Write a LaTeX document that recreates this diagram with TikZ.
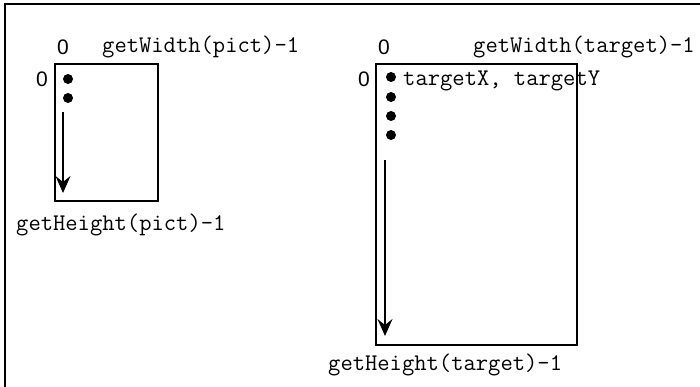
\documentclass[tikz,border=0pt]{standalone}
\usepackage{fontspec}
\newfontfamily\sansfont{Liberation Sans}
\usetikzlibrary{arrows.meta}
\begin{document}
\begin{tikzpicture}[x=1pt,y=-1pt,
  lbl/.style={anchor=base west,inner sep=0pt,font=\ttfamily\fontsize{23.9}{26}\selectfont},
  zero/.style={anchor=base west,inner sep=0pt,font=\sansfont\fontsize{21}{24}\selectfont},
  imgbox/.style={draw,line width=1.6pt,inner sep=0pt,anchor=north west},
  pix/.style={circle,fill,inner sep=0pt,minimum size=10pt},
  scan/.style={line width=1.8pt,-{Stealth[length=17pt,width=15pt,inset=6pt]}}]
\useasboundingbox (0,0) rectangle (700,387);
% frame
\coordinate (fbl) at (5,387);
\coordinate (ftl) at (5,4);
\coordinate (ftr) at (700,4);
\draw[line width=1.5pt] (fbl) -- (ftl) -- (ftr);
% source picture
\node[imgbox,minimum width=103pt,minimum height=137pt] (pict) at (54,63) {};
\node[zero] (p0x) at (57,55) {0};
\node[lbl] (pw) at (102,53) {getWidth(pict)-1};
\node[zero] (p0y) at (36,87) {0};
\node[lbl] (ph) at (16,230) {getHeight(pict)-1};
\node[pix] (pd1) at (68,79) {};
\node[pix] (pd2) at (68,98) {};
\coordinate (pas) at (63,112);
\coordinate (pae) at (63,193);
\draw[scan] (pas) -- (pae);
% target picture
\node[imgbox,minimum width=201pt,minimum height=281pt] (target) at (375,63) {};
\node[zero] (t0x) at (378,55) {0};
\node[lbl] (tw) at (473,53) {getWidth(target)-1};
\node[zero] (t0y) at (358,87) {0};
\node[lbl] (th) at (328,370) {getHeight(target)-1};
\node[pix] (td1) at (391,77) {};
\node[pix] (td2) at (391,97) {};
\node[pix] (td3) at (391,116) {};
\node[pix] (td4) at (391,135) {};
\node[lbl] (txy) at (403,86) {targetX, targetY};
\coordinate (tas) at (385,160);
\coordinate (tae) at (385,336);
\draw[scan] (tas) -- (tae);
\end{tikzpicture}
\end{document}
